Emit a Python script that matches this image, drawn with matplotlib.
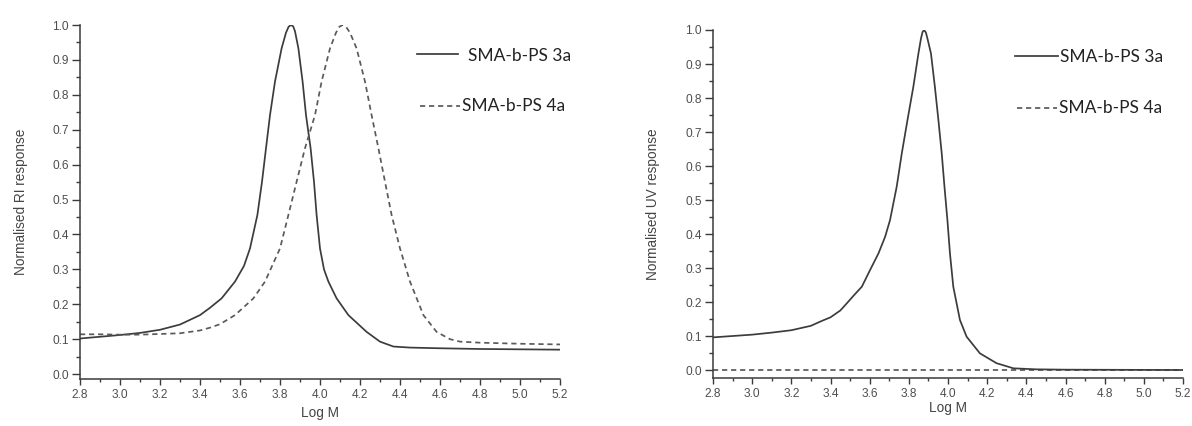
import matplotlib
matplotlib.use("Agg")
import matplotlib.pyplot as plt
from matplotlib.lines import Line2D
from matplotlib.ticker import MultipleLocator, FormatStrFormatter

# GPC traces (log M vs normalised detector response)
ri_3a_logm = [2.8, 2.9, 3.0, 3.1, 3.2, 3.3, 3.4, 3.45, 3.508, 3.575, 3.62, 3.65,
              3.687, 3.71, 3.73, 3.75, 3.775, 3.808, 3.83, 3.843, 3.855, 3.866,
              3.875, 3.892, 3.913, 3.93, 3.953, 3.97, 3.983, 4.0, 4.02, 4.042,
              4.083, 4.142, 4.233, 4.3, 4.367, 4.45, 4.6, 4.8, 5.0, 5.2]
ri_3a_resp = [0.102, 0.107, 0.112, 0.118, 0.127, 0.142, 0.169, 0.19, 0.217, 0.265,
              0.31, 0.36, 0.456, 0.551, 0.647, 0.742, 0.838, 0.933, 0.978, 0.995,
              1.0, 0.996, 0.982, 0.933, 0.838, 0.742, 0.647, 0.551, 0.456, 0.36,
              0.30, 0.265, 0.217, 0.169, 0.121, 0.093, 0.079, 0.076, 0.074, 0.072,
              0.071, 0.07]

ri_4a_logm = [2.8, 2.9, 3.0, 3.1, 3.2, 3.3, 3.4, 3.45, 3.5, 3.575, 3.625, 3.667,
              3.725, 3.8, 3.842, 3.883, 3.925, 3.975, 4.008, 4.05, 4.08, 4.097,
              4.113, 4.13, 4.15, 4.183, 4.225, 4.258, 4.292, 4.325, 4.358, 4.4,
              4.45, 4.517, 4.583, 4.65, 4.7, 4.8, 5.0, 5.2]
ri_4a_resp = [0.114, 0.114, 0.113, 0.113, 0.115, 0.117, 0.125, 0.133, 0.143, 0.169,
              0.195, 0.217, 0.265, 0.36, 0.456, 0.551, 0.647, 0.742, 0.838, 0.933,
              0.978, 0.995, 1.0, 0.995, 0.978, 0.933, 0.838, 0.742, 0.647, 0.551,
              0.456, 0.36, 0.265, 0.169, 0.121, 0.1, 0.093, 0.09, 0.087, 0.085]

uv_3a_logm = [2.8, 2.9, 3.0, 3.1, 3.2, 3.3, 3.35, 3.4, 3.45, 3.483, 3.52, 3.56,
              3.602, 3.645, 3.679, 3.704, 3.738, 3.764, 3.793, 3.823, 3.849, 3.862,
              3.87, 3.878, 3.887, 3.895, 3.913, 3.933, 3.951, 3.968, 3.982, 3.997,
              4.01, 4.027, 4.061, 4.095, 4.163, 4.248, 4.334, 4.45, 4.6, 5.2]
uv_3a_resp = [0.096, 0.1, 0.104, 0.11, 0.117, 0.13, 0.143, 0.155, 0.175, 0.196,
              0.22, 0.245, 0.294, 0.343, 0.392, 0.441, 0.539, 0.637, 0.735, 0.833,
              0.931, 0.975, 0.994, 1.0, 0.993, 0.975, 0.931, 0.833, 0.735, 0.637,
              0.539, 0.441, 0.343, 0.245, 0.147, 0.098, 0.049, 0.02, 0.005, 0.002,
              0.001, 0.0]

uv_4a_logm = [2.8, 3.2, 3.6, 4.0, 4.4, 4.8, 5.2]
uv_4a_resp = [0.0, 0.0, 0.0, 0.0, 0.0, 0.0, 0.0]

series_names = ["SMA-b-PS 3a", "SMA-b-PS 4a"]
x_label = "Log M"
y_labels = ["Normalised RI response", "Normalised UV response"]

W, H = 1192, 426
fig = plt.figure(figsize=(W / 100, H / 100), dpi=100)
fig.patch.set_facecolor("white")

TICK_COLOR = "#4e4e4e"
SPINE_COLOR = "#3a3a3a"
SOLID = dict(color="#3c3c3c", lw=1.25, ls="-", solid_joinstyle="round")
DASHED = dict(color="#5a5a5a", lw=1.25, ls=(0, (3.0, 2.2)))


def px_box(x0, x1, y_top, y_bot):
    return [x0 / W, 1 - y_bot / H, (x1 - x0) / W, (y_bot - y_top) / H]


def style_axes(ax, ylo, ylabel, ylab_x, xlab_y):
    ax.set_xlim(2.8, 5.2)
    ax.set_ylim(ylo, 1.0)
    for s in ("top", "right"):
        ax.spines[s].set_visible(False)
    for s in ("left", "bottom"):
        ax.spines[s].set_color(SPINE_COLOR)
        ax.spines[s].set_linewidth(1.1)
    ax.spines["left"].set_bounds(ylo, 1.0)
    ax.xaxis.set_major_locator(MultipleLocator(0.2))
    ax.xaxis.set_minor_locator(MultipleLocator(0.1))
    ax.yaxis.set_major_locator(MultipleLocator(0.1))
    ax.yaxis.set_minor_locator(MultipleLocator(0.05))
    ax.xaxis.set_major_formatter(FormatStrFormatter("%.1f"))
    ax.yaxis.set_major_formatter(FormatStrFormatter("%.1f"))
    ax.tick_params(axis="both", which="both", direction="out", color=SPINE_COLOR,
                   width=1.0, labelcolor=TICK_COLOR, labelsize=8.6)
    ax.tick_params(axis="y", which="major", length=6.0, pad=2)
    ax.tick_params(axis="y", which="minor", length=3.2)
    ax.tick_params(axis="x", which="major", length=4.0, pad=3)
    ax.tick_params(axis="x", which="minor", length=2.4)
    for lab in ax.get_xticklabels() + ax.get_yticklabels():
        lab.set_fontfamily("Liberation Sans")
    ax.set_xlabel(x_label, fontsize=9.8, color="#444444",
                  fontfamily="Liberation Sans", va="center")
    ax.set_ylabel(ylabel, fontsize=9.8, color="#444444",
                  fontfamily="Liberation Sans", va="center")
    ax.xaxis.set_label_coords(0.5, xlab_y)
    ax.yaxis.set_label_coords(ylab_x, 0.5)
    ax.set_facecolor("none")


def legend_entry(x0, x1, y_line, x_text, y_text, text, style):
    fig.add_artist(Line2D([x0 / W, x1 / W], [1 - y_line / H, 1 - y_line / H],
                          transform=fig.transFigure, **style))
    fig.text(x_text / W, 1 - y_text / H, text, fontsize=12.5, color="#222222",
             fontfamily="Lato", ha="left", va="center")


# Left panel: RI detector
ax1 = fig.add_axes(px_box(80, 560, 25, 379))
ax1.plot(ri_3a_logm, ri_3a_resp, **SOLID)
ax1.plot(ri_4a_logm, ri_4a_resp, **DASHED)
style_axes(ax1, -0.014, y_labels[0], -0.123, -0.096)
legend_entry(417, 458, 54, 468, 56, series_names[0], SOLID)
legend_entry(420, 460, 106, 462, 106, series_names[1], DASHED)

# Right panel: UV detector
ax2 = fig.add_axes(px_box(713, 1183, 30, 378))
ax2.plot(uv_4a_logm, uv_4a_resp, **DASHED)
ax2.plot(uv_3a_logm, uv_3a_resp, **SOLID)
style_axes(ax2, -0.0235, y_labels[1], -0.128, -0.086)
legend_entry(1015, 1058, 56, 1060, 57, series_names[0], SOLID)
legend_entry(1017, 1057, 108, 1059, 108, series_names[1], DASHED)

fig.savefig("out.png", dpi=100, facecolor="white")
